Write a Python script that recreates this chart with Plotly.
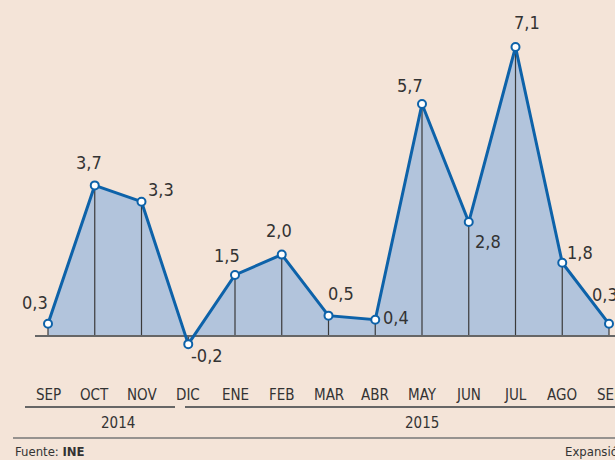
import plotly.graph_objects as go

months = ["SEP", "OCT", "NOV", "DIC", "ENE", "FEB", "MAR", "ABR", "MAY", "JUN", "JUL", "AGO", "SEP"]
values = [0.3, 3.7, 3.3, -0.2, 1.5, 2.0, 0.5, 0.4, 5.7, 2.8, 7.1, 1.8, 0.3]
value_labels = ["0,3", "3,7", "3,3", "-0,2", "1,5", "2,0", "0,5", "0,4", "5,7", "2,8", "7,1", "1,8", "0,3"]
years = ["2014", "2015"]
year_spans = [(0, 3), (4, 12)]
source = "Fuente: <b>INE</b>"
brand = "Expansión"

W, H = 615, 460
X0, DX = 48, 46.75      # pixel of first point, spacing
Y0, SY = 336, 40.7      # pixel of zero, px per unit

def px2x(p):
    return (p - X0) / DX

def py2y(p):
    return (Y0 - p) / SY

BG = "#f4e4d8"
FILL = "#b2c4dc"
LINE = "#0d62a9"
DARK = "#333333"
FONT = "DejaVu Sans Condensed, sans-serif"

x = list(range(len(values)))

fig = go.Figure()
fig.add_trace(go.Scatter(x=x, y=values, fill="tozeroy", fillcolor=FILL,
                         mode="lines", line=dict(width=0), hoverinfo="skip"))
vx, vy = [], []
for i, v in zip(x, values):
    vx += [i, i, None]
    vy += [0, v, None]
fig.add_trace(go.Scatter(x=vx, y=vy, mode="lines", line=dict(color="#3a3a3a", width=1.2), hoverinfo="skip"))
fig.add_trace(go.Scatter(x=[px2x(35), px2x(615)], y=[0, 0], mode="lines",
                         line=dict(color="#666666", width=2), hoverinfo="skip"))
fig.add_trace(go.Scatter(x=x, y=values, mode="lines+markers",
                         line=dict(color=LINE, width=3),
                         marker=dict(size=8, color="white", line=dict(color=LINE, width=2))))

# label offsets in pixels (dx, dy) relative to the point
offsets = [(-13, -21), (-6, -23), (19, -12), (19, 11), (-8, -19), (-3, -24), (12, -22), (21, -2),
           (-12, -19), (19, 19), (11, -25), (18, -10), (-4, -29)]
annotations = []
for i, (lab, v, (dx, dy)) in enumerate(zip(value_labels, values, offsets)):
    annotations.append(dict(x=i, y=v, xref="x", yref="y", text=lab, showarrow=False,
                             xshift=dx, yshift=-dy, font=dict(size=18, color=DARK, family=FONT)))
for i, m in enumerate(months):
    annotations.append(dict(x=i, y=py2y(395), xref="x", yref="y", text=m, showarrow=False,
                            font=dict(size=15, color=DARK, family=FONT)))
year_lines = [(25, 175), (185, 615)]
for (a, b), yr in zip(year_spans, years):
    annotations.append(dict(x=(a + b) / 2, y=py2y(423), xref="x", yref="y", text=yr, showarrow=False,
                            font=dict(size=15, color=DARK, family=FONT)))
annotations.append(dict(x=13 / W, y=1 - 451 / H, xref="paper", yref="paper", text=source,
                        showarrow=False, xanchor="left", yanchor="middle",
                        font=dict(size=13, color=DARK, family=FONT)))
annotations.append(dict(x=563 / W, y=1 - 451 / H, xref="paper", yref="paper", text=brand,
                        showarrow=False, xanchor="left", yanchor="middle",
                        font=dict(size=13, color=DARK, family=FONT)))

shapes = []
for (l, r) in year_lines:
    shapes.append(dict(type="line", xref="paper", yref="paper", x0=l / W, x1=r / W,
                       y0=1 - 407 / H, y1=1 - 407 / H, line=dict(color="#666666", width=2)))
shapes.append(dict(type="line", xref="paper", yref="paper", x0=13 / W, x1=1,
                   y0=1 - 438 / H, y1=1 - 438 / H, line=dict(color="#777777", width=1.5)))

fig.update_layout(
    width=W, height=H, margin=dict(l=0, r=0, t=0, b=0),
    paper_bgcolor=BG, plot_bgcolor=BG, showlegend=False,
    xaxis=dict(range=[px2x(0), px2x(W)], visible=False, fixedrange=True),
    yaxis=dict(range=[py2y(H), py2y(0)], visible=False, fixedrange=True),
    annotations=annotations, shapes=shapes,
)
fig.write_html("out.html", config={"displayModeBar": False},
               post_script="document.body.style.margin='0';document.body.style.overflow='hidden';document.body.style.background='" + BG + "';")
